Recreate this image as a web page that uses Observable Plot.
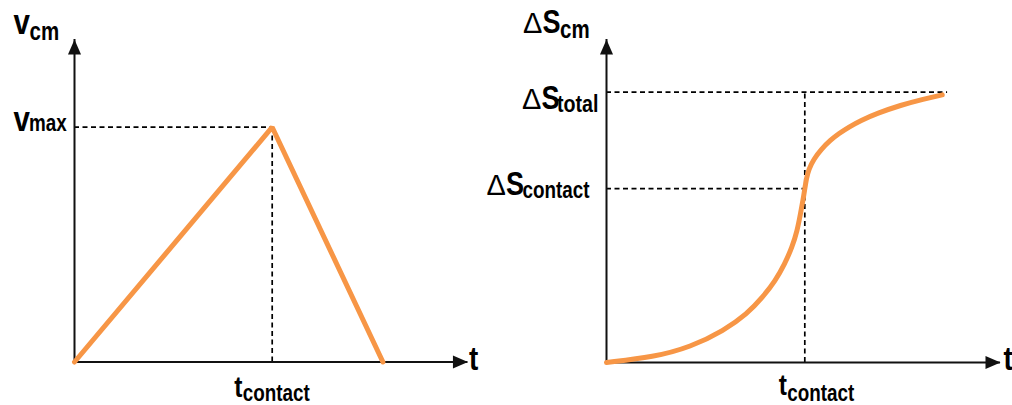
<!DOCTYPE html>
<html>
<head>
<meta charset="utf-8">
<script src="https://cdn.jsdelivr.net/npm/d3@7"></script>
<script src="https://cdn.jsdelivr.net/npm/@observablehq/plot@0.6"></script>
<style>
  body { margin: 0; background: #fff; }
  #charts { display: flex; width: 1012px; height: 405px; }
  #charts svg { display: block; overflow: visible; }
</style>
</head>
<body>
<div id="charts"></div>
<script>
// Centre-of-mass velocity: linear rise to v_max at t_contact, then linear fall to zero
const velTime  = [0, 1, 1.56];
const velValue = [0, 1, 0];

// Centre-of-mass displacement over time (S-shaped, steepest at t_contact)
const dispTime  = [0, 0.239, 0.424, 0.592, 0.709, 0.788, 0.852, 0.899, 0.936, 0.962, 0.978, 0.992, 1.0,
                   1.008, 1.02, 1.045, 1.083, 1.13, 1.172, 1.222, 1.281, 1.365, 1.483, 1.6, 1.693];
const dispValue = [0, 0.02, 0.057, 0.118, 0.18, 0.242, 0.303, 0.365, 0.427, 0.488, 0.55, 0.605, 0.643,
                   0.68, 0.715, 0.752, 0.789, 0.823, 0.847, 0.871, 0.895, 0.922, 0.952, 0.975, 0.99];

// Reference levels
const tContact = 1;
const vMax = 1;
const sContact = 0.643;
const sTotal = 1;

// Axis extents (in data units)
const velAxisT = 1.99, velAxisV = 1.373;
const dispAxisT = 1.987, dispAxisS = 1.195, totalGuideEnd = 1.72;

// Label texts
const velYLabel = ["v", "cm"];
const velMaxLabel = ["v", "max"];
const contactLabel = ["t", "contact"];
const timeLabel = "t";
const dispYLabel = ["\u0394", "S", "cm"];
const dispTotalLabel = ["\u0394", "S", "total"];
const dispContactLabel = ["\u0394", "S", "contact"];

const ORANGE = "#F79646";
const INK = "#111";
const FONT = "'Liberation Sans', Arial, sans-serif";
const CONDENSE = 0.82; // horizontal squeeze of the bold lettering

// Filled arrowheads with the tip at the origin
const arrowUp = {draw(ctx) { ctx.moveTo(0, 0); ctx.lineTo(-6.5, 15); ctx.lineTo(6.5, 15); ctx.closePath(); }};
const arrowRight = {draw(ctx) { ctx.moveTo(0, 0); ctx.lineTo(-15, -6.5); ctx.lineTo(-15, 6.5); ctx.closePath(); }};

const dashed = {stroke: "#000", strokeWidth: 1.7, strokeDasharray: "5,3.5"};

// A text piece anchored on a data point, shifted by a pixel offset
function piece(x, y, text, dx, dy, size, opts = {}) {
  return Plot.text([text], {
    x: () => x, y: () => y, text: d => d,
    dx, dy, textAnchor: "start", lineAnchor: "bottom",
    fontSize: size, fontWeight: "bold", fontFamily: FONT, fill: "#000",
    className: "condensed",
    ...opts
  });
}
const delta = (x, y, dx, dy) => piece(x, y, "\u0394", dx, dy, 29, {fontWeight: "normal", className: "plain"});

function axes(tEnd, yEnd) {
  return [
    Plot.ruleX([0], {y1: 0, y2: yEnd, stroke: INK, strokeWidth: 2}),
    Plot.ruleY([0], {x1: 0, x2: tEnd, stroke: INK, strokeWidth: 2}),
    Plot.dot([0], {x: 0, y: yEnd, symbol: arrowUp, fill: INK, stroke: "none", r: 6}),
    Plot.dot([0], {x: tEnd, y: 0, symbol: arrowRight, fill: INK, stroke: "none", r: 6})
  ];
}

// Squeeze the bold lettering horizontally around each text's own anchor
function condense(svg) {
  svg.querySelectorAll("g.condensed text").forEach(t => {
    const tr = t.getAttribute("transform") || "";
    t.setAttribute("transform", tr + ` scale(${CONDENSE},1)`);
  });
  return svg;
}

const velData = velTime.map((t, i) => ({t, v: velValue[i]}));
const dispData = dispTime.map((t, i) => ({t, s: dispValue[i]}));

const velChart = Plot.plot({
  width: 506, height: 405, margin: 0,
  x: {domain: [0, 1], range: [74, 271.7], axis: null},
  y: {domain: [0, 1], range: [361.5, 126.7], axis: null},
  marks: [
    Plot.ruleY([vMax], {x1: 0, x2: tContact, ...dashed}),
    Plot.ruleX([tContact], {y1: 0, y2: vMax, ...dashed}),
    ...axes(velAxisT, velAxisV),
    Plot.line(velData, {x: "t", y: "v", stroke: ORANGE, strokeWidth: 5, strokeLinejoin: "miter", strokeLinecap: "round"}),
    piece(0, velAxisV, velYLabel[0], -61, -6, 36),
    piece(0, velAxisV, velYLabel[1], -45, 0, 25),
    piece(0, vMax, velMaxLabel[0], -61, 3.5, 36),
    piece(0, vMax, velMaxLabel[1], -45.5, 3.5, 23),
    piece(tContact, 0, contactLabel[0], -38, 34.5, 30),
    piece(tContact, 0, contactLabel[1], -29.5, 38.5, 23),
    piece(velAxisT, 0, timeLabel, 1, 7.5, 34)
  ]
});

const dispChart = Plot.plot({
  width: 506, height: 405, margin: 0,
  x: {domain: [0, 1], range: [100, 298.3], axis: null},
  y: {domain: [0, 1], range: [362, 91.7], axis: null},
  marks: [
    Plot.ruleY([sTotal], {x1: 0, x2: totalGuideEnd, ...dashed}),
    Plot.ruleY([sContact], {x1: 0, x2: tContact, ...dashed}),
    Plot.ruleX([tContact], {y1: 0, y2: sTotal, ...dashed}),
    ...axes(dispAxisT, dispAxisS),
    Plot.line(dispData, {x: "t", y: "s", curve: "basis", stroke: ORANGE, strokeWidth: 5, strokeLinecap: "round"}),
    delta(0, dispAxisS, -83.5, -6),
    piece(0, dispAxisS, dispYLabel[1], -64, -6, 33),
    piece(0, dispAxisS, dispYLabel[2], -46.5, -1, 25),
    delta(0, sTotal, -84.5, 16.6),
    piece(0, sTotal, dispTotalLabel[1], -65, 16.3, 33),
    piece(0, sTotal, dispTotalLabel[2], -49.5, 20, 24),
    delta(0, sContact, -120, 6.7),
    piece(0, sContact, dispContactLabel[1], -100.5, 6.7, 33),
    piece(0, sContact, dispContactLabel[2], -84, 9.7, 23),
    piece(tContact, 0, contactLabel[0], -26, 32, 30),
    piece(tContact, 0, contactLabel[1], -17.5, 38.7, 23),
    piece(dispAxisT, 0, timeLabel, 3, 7, 34)
  ]
});

document.getElementById("charts").append(condense(velChart), condense(dispChart));
</script>
</body>
</html>
